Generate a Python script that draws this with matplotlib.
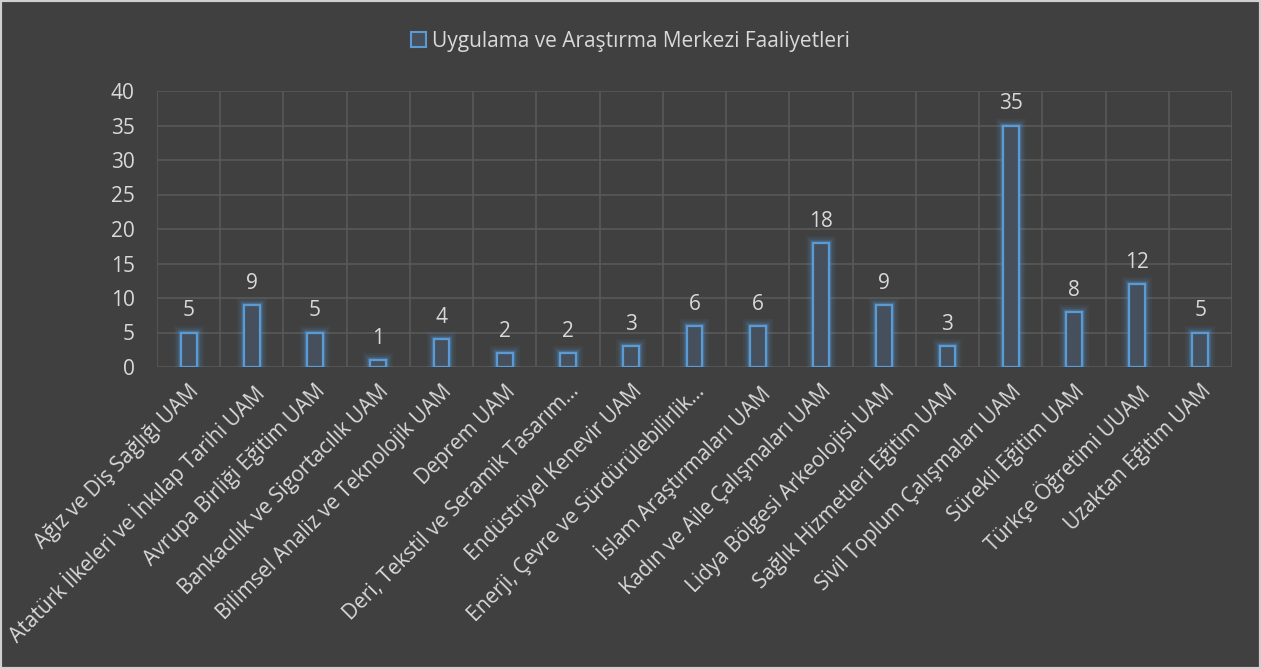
import matplotlib
matplotlib.use("Agg")
import matplotlib.pyplot as plt
from matplotlib.patches import Rectangle

categories = [
    "Ağız ve Diş Sağlığı UAM",
    "Atatürk İlkeleri ve İnkılap Tarihi UAM",
    "Avrupa Birliği Eğitim UAM",
    "Bankacılık ve Sigortacılık UAM",
    "Bilimsel Analiz ve Teknolojik UAM",
    "Deprem UAM",
    "Deri, Tekstil ve Seramik Tasarım…",
    "Endüstriyel Kenevir UAM",
    "Enerji, Çevre ve Sürdürülebilirlik…",
    "İslam Araştırmaları UAM",
    "Kadın ve Aile Çalışmaları UAM",
    "Lidya Bölgesi Arkeolojisi UAM",
    "Sağlık Hizmetleri Eğitim UAM",
    "Sivil Toplum Çalışmaları UAM",
    "Sürekli Eğitim UAM",
    "Türkçe Öğretimi UUAM",
    "Uzaktan Eğitim UAM",
]
values = [5, 9, 5, 1, 4, 2, 2, 3, 6, 6, 18, 9, 3, 35, 8, 12, 5]
series_name = "Uygulama ve Araştırma Merkezi Faaliyetleri"

BG = "#404040"
EDGE = "#5b9bd5"
TXT = "#d9d9d9"
GRID = "#595959"

plt.rcParams["font.family"] = ["Open Sans", "DejaVu Sans"]

fig = plt.figure(figsize=(12.61, 6.69), dpi=100, facecolor=BG)
fig.patches.append(Rectangle((0, 0), 1, 1, transform=fig.transFigure,
                             fill=False, edgecolor="#d0d0d0", lw=3))
ax = fig.add_axes([157 / 1261, 1 - 367 / 669, (1232 - 157) / 1261, (367 - 91) / 669])
ax.set_facecolor(BG)

x = list(range(len(values)))
# soft glow around the outlined bars
for lw, a in ((10, 0.07), (7, 0.1), (4.5, 0.16), (3, 0.22)):
    ax.bar(x, values, width=0.25, facecolor="none", edgecolor=EDGE, lw=lw, alpha=a, zorder=2)
ax.bar(x, values, width=0.25, facecolor="#45505c", edgecolor=EDGE, lw=1.6, zorder=3,
       label=series_name)

for xi, v in zip(x, values):
    ax.text(xi, v + 1.6, str(v), ha="center", va="bottom", color=TXT, fontsize=15, zorder=4)

ax.set_xlim(-0.5, len(values) - 0.5)
ax.set_ylim(0, 40)
ax.set_yticks(range(0, 41, 5))
ax.set_xticks(x)
ax.set_xticklabels(categories, rotation=45, ha="right", rotation_mode="anchor",
                   color=TXT, fontsize=15)
ax.tick_params(axis="x", length=0, pad=10)
ax.tick_params(axis="y", length=0, colors=TXT, labelsize=15, pad=16)
ax.grid(axis="y", color=GRID, lw=1.2, zorder=0)
ax.set_xticks([i + 0.5 for i in range(-1, len(values))], minor=True)
ax.tick_params(axis="x", which="minor", length=0)
ax.grid(axis="x", which="minor", color=GRID, lw=1.2, zorder=0)
ax.set_axisbelow(True)
for s in ax.spines.values():
    s.set_visible(False)

fig.legend(handles=[Rectangle((0, 0), 1, 1, facecolor="#45505c", edgecolor=EDGE, lw=1.5)],
           labels=[series_name], loc="center", bbox_to_anchor=(0.5, 1 - 41 / 669),
           frameon=False, fontsize=15, handlelength=0.7, handleheight=0.7,
           handletextpad=0.3, labelcolor=TXT)

fig.savefig("out.png", dpi=100, facecolor=BG)
